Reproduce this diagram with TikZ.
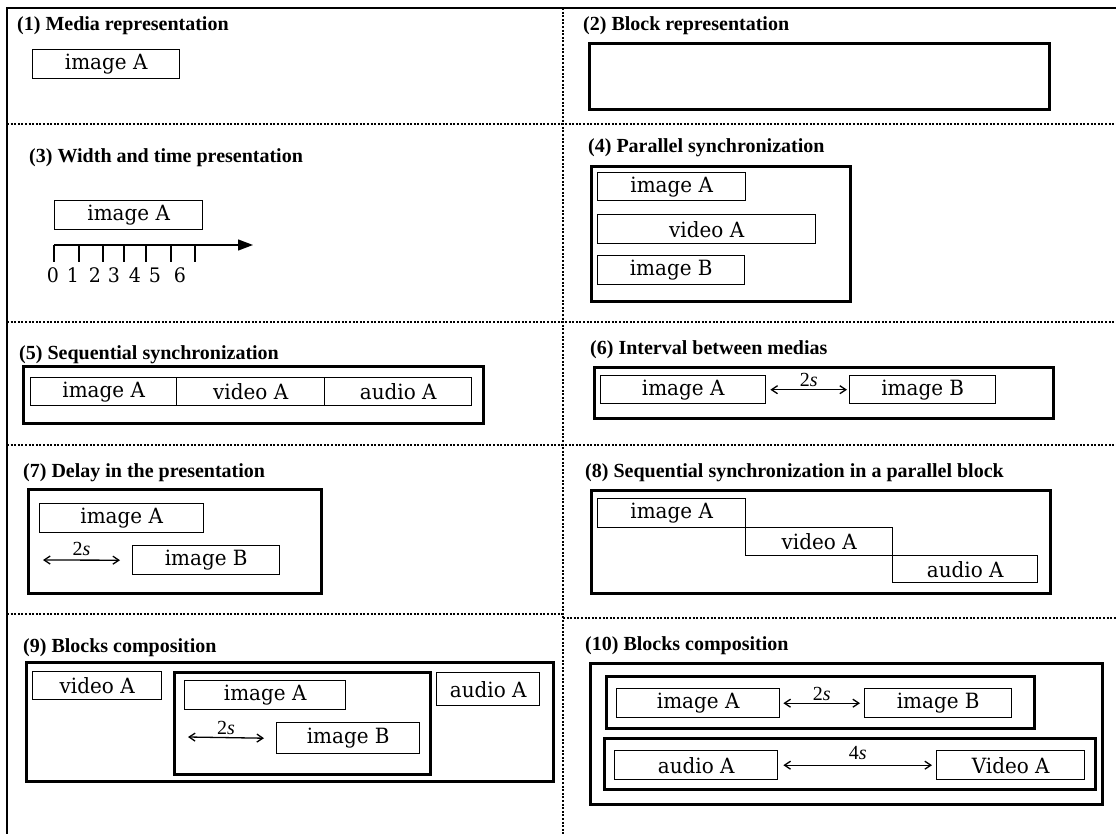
\documentclass[tikz,border=0pt]{standalone}
\usepackage{fontspec}
\setmainfont{Liberation Serif}
\newfontfamily\labelfont[FakeStretch=0.95]{DejaVu Serif}
\usetikzlibrary{arrows.meta}

% media box: name, x1, y1, x2, y2, text
\newcommand\mediabox[6]{%
  \node[media, minimum width={(#4-#2)*1pt}, minimum height={(#5-#3)*1pt}] (#1) at (#2,#3) {#6};}
% block frame: name, x1, y1, x2, y2
\newcommand\blockbox[5]{%
  \node[block, minimum width={(#4-#2)*1pt}, minimum height={(#5-#3)*1pt}] (#1) at (#2,#3) {};}

\begin{document}
\begin{tikzpicture}[x=1pt,y=-1pt,
  title/.style={anchor=west, inner sep=0pt, font=\fontsize{20}{22}\selectfont\bfseries},
  media/.style={draw, line width=1.4pt, anchor=north west, inner sep=0pt,
    font=\labelfont\fontsize{21}{23}\selectfont},
  block/.style={draw, line width=3.2pt, anchor=north west, inner sep=0pt},
  frame/.style={line width=1.8pt},
  sep/.style={line width=2.5pt, dash pattern=on 2pt off 1.6pt},
  gap/.style={line width=1.3pt, {Straight Barb[length=6pt,width=8pt]}-{Straight Barb[length=6pt,width=8pt]}},
  dur/.style={font=\fontsize{20}{21}\selectfont, inner sep=0pt},
  digit/.style={font=\labelfont\fontsize{20}{21}\selectfont, inner sep=0pt}
]
\useasboundingbox (0,0) rectangle (1116,834);

% outer frame and cell separators
\draw[frame] (7,834) -- (7,8) -- (1116,8);
\draw[sep] (563,8) -- (563,834);
\draw[sep] (7,124) -- (1116,124);
\draw[sep] (7,322) -- (1116,322);
\draw[sep] (7,445) -- (1116,445);
\draw[sep] (7,614) -- (563,614);
\draw[sep] (563,618) -- (1116,618);

% (1)
\node[title] (t1) at (17,26) {(1) Media representation};
\mediabox{m1}{32}{49}{179}{78}{image A}

% (2)
\node[title] (t2) at (583,26) {(2) Block representation};
\blockbox{k2}{588}{42}{1048}{108}

% (3)
\node[title] (t3) at (29,158) {(3) Width and time presentation};
\mediabox{m3}{54}{200}{202}{229}{image A}
\coordinate (ax0) at (54,245);
\coordinate (ax1) at (253,245);
\draw[line width=1.3pt, -{Triangle[length=15pt,width=11pt]}] (ax0) -- (ax1);
\foreach \x in {54,79,103,124,146,171,195}
  \draw[line width=1.3pt] (\x,245) -- (\x,262);
\foreach \x/\d in {53/0,73/1,95/2,114/3,135/4,155/5,180/6}
  \node[digit] (d\d) at (\x,275) {\d};

% (4)
\node[title] (t4) at (588,148) {(4) Parallel synchronization};
\blockbox{k4}{590}{165}{849}{300}
\mediabox{m4a}{597}{172}{745}{200}{image A}
\mediabox{m4b}{597}{214}{815}{243}{video A}
\mediabox{m4c}{597}{255}{744}{284}{image B}

% (5)
\node[title] (t5) at (19,355) {(5) Sequential synchronization};
\blockbox{k5}{22}{365}{482}{422}
\mediabox{m5a}{30}{377}{176}{405}{image A}
\mediabox{m5b}{176}{377}{324}{405}{video A}
\mediabox{m5c}{324}{377}{471}{405}{audio A}

% (6)
\node[title] (t6) at (590,350) {(6) Interval between medias};
\blockbox{k6}{593}{366}{1052}{417}
\mediabox{m6a}{600}{375}{765}{403}{image A}
\mediabox{m6b}{849}{375}{995}{403}{image B}
\draw[gap] ([xshift=4pt]m6a.east) -- node[dur, above=2pt] {2\textit{s}} ([xshift=-2pt]m6b.west);

% (7)
\node[title] (t7) at (23,473) {(7) Delay in the presentation};
\blockbox{k7}{27}{488}{320}{592}
\mediabox{m7a}{39}{503}{203}{532}{image A}
\mediabox{m7b}{132}{545}{279}{574}{image B}
\coordinate (s7) at (43,560);
\draw[gap] (s7) -- node[dur, above=4pt] {2\textit{s}} ([xshift=-12pt]m7b.west);

% (8)
\node[title] (t8) at (585,473) {(8) Sequential synchronization in a parallel block};
\blockbox{k8}{590}{489}{1049}{592}
\mediabox{m8a}{597}{498}{745}{527}{image A}
\mediabox{m8b}{745}{527}{892}{555}{video A}
\mediabox{m8c}{892}{555}{1037}{582}{audio A}

% (9)
\node[title] (t9) at (23,648) {(9) Blocks composition};
\blockbox{k9}{25}{661}{552}{780}
\mediabox{m9a}{32}{671}{161}{699}{video A}
\blockbox{k9i}{173}{671}{429}{773}
\mediabox{m9b}{184}{680}{345}{709}{image A}
\mediabox{m9c}{276}{722}{419}{753}{image B}
\mediabox{m9d}{436}{672}{539}{705}{audio A}
\coordinate (s9) at (188,737);
\draw[gap] (s9) -- node[dur, above=2pt] {2\textit{s}} ([xshift=-12pt]m9c.west);

% (10)
\node[title] (t10) at (585,646) {(10) Blocks composition};
\blockbox{k10}{589}{662}{1101}{803}
\blockbox{k10a}{605}{675}{1033}{727}
\mediabox{m10a}{616}{688}{779}{717}{image A}
\mediabox{m10b}{864}{688}{1011}{717}{image B}
\draw[gap] ([xshift=3pt]m10a.east) -- node[dur, above=2pt] {2\textit{s}} ([xshift=-4pt]m10b.west);
\blockbox{k10b}{603}{737}{1094}{788}
\mediabox{m10c}{614}{750}{777}{779}{audio A}
\mediabox{m10d}{936}{750}{1084}{779}{Video A}
\draw[gap] ([xshift=5pt]m10c.east) -- node[dur, above=5pt] {4\textit{s}} ([xshift=-4pt]m10d.west);
\end{tikzpicture}
\end{document}
